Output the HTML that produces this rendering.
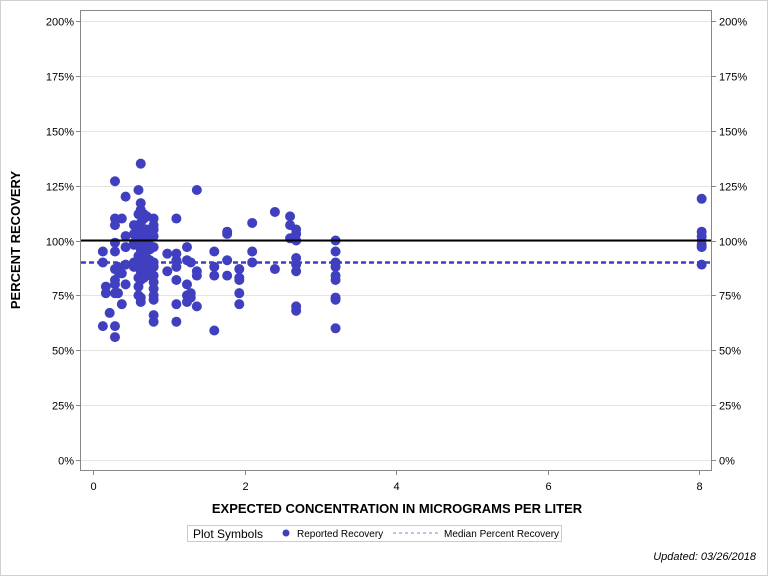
<!DOCTYPE html>
<html><head><meta charset="utf-8"><style>
body{margin:0;background:#fff;}
svg text{font-family:"Liberation Sans",Arial,sans-serif;}
</style></head><body>
<svg id="c" width="768" height="576" xmlns="http://www.w3.org/2000/svg">
<rect x="0.5" y="0.5" width="767" height="575" fill="#fff" stroke="#d0d0d0"/>
<g id="grid"></g>
<g id="marks"></g>
<rect x="80.5" y="10.5" width="631" height="460" fill="none" stroke="#888"/>
<g id="axes"></g>
<text x="20" y="240" transform="rotate(-90 20 240)" text-anchor="middle" font-size="13" font-weight="bold" fill="#000">PERCENT RECOVERY</text>
<text x="397" y="513" text-anchor="middle" font-size="13" font-weight="bold" fill="#000">EXPECTED CONCENTRATION IN MICROGRAMS PER LITER</text>
<g>
<rect x="187.5" y="525.5" width="374" height="16" fill="#fff" stroke="#ccc"/>
<text x="193" y="538" font-size="12" fill="#000">Plot Symbols</text>
<circle cx="286" cy="533" r="3.5" fill="#3f3fbf"/>
<text x="297" y="537" font-size="10" fill="#000">Reported Recovery</text>
<line x1="393" y1="533" x2="438" y2="533" stroke="#8080d8" stroke-dasharray="3,3"/>
<text x="444" y="537" font-size="10" fill="#000">Median Percent Recovery</text>
</g>
<text x="756" y="560" text-anchor="end" font-size="11" font-style="italic" fill="#000">Updated: 03/26/2018</text>
</svg>
<script>
const yTicks=[0,25,50,75,100,125,150,175,200];
const xTicks=[0,2,4,6,8];
const refLine=100;
const medianValue=90;
const concs=[0.13,0.17,0.22,0.29,0.33,0.38,0.43,0.54,0.6,0.63,0.67,0.71,0.75,0.8,0.98,1.1,1.24,1.29,1.37,1.6,1.77,1.93,2.1,2.4,2.6,2.68,3.2,8.03];
const recoveries=[
[95,90,61],[79,76],[67],[127,107,110,99,95,87,82,80,76,61,56],[88,86,76],[110,85,71],[120,102,97,89,80],
[107,103,99,98,90,88],[123,112,105,101,93,91,88,83,79,75],[135,117,114,108,100,96,92,86,82,74,72],
[112,110,104,98,95,90,85,83],[111,105,100,97,92,88,84],[104,101,96,91,87],
[110,107,105,102,97,90,88,84,81,78,75,73,66,63],[94,86],[110,94,91,88,82,71,63],[97,91,80,75,72],[90,76,74],
[123,86,84,70],[95,88,84,59],[104,103,91,84],[87,83,82,76,71],[108,95,90],[113,87],[111,107,101],
[105,103,100,92,89,86,70,68],[100,95,90,88,84,82,74,73,60],[119,104,102,100,98,97,89]];
const X=v=>93+v*75.8;
const Y=v=>460-v*2.195;
const NS="http://www.w3.org/2000/svg";
function mk(t,a,p){const e=document.createElementNS(NS,t);for(const k in a)e.setAttribute(k,a[k]);p.appendChild(e);return e;}
const grid=document.getElementById('grid'),axes=document.getElementById('axes'),marks=document.getElementById('marks');
yTicks.forEach(t=>{
 const y=Math.round(Y(t))+0.5;
 const g=mk('line',{x1:81,x2:711,y1:y,y2:y,stroke:'#e4e4e4'},grid);
 
 
 const l=mk('line',{x1:76,x2:80,y1:y,y2:y,stroke:'#888'},axes);
 
 
 const r=mk('line',{x1:712,x2:716,y1:y,y2:y,stroke:'#888'},axes);
 
 
 const a=mk('text',{x:74,y:y+4,'text-anchor':'end','font-size':11,fill:'#000'},axes);a.textContent=t+'%';
 
 
 const b=mk('text',{x:719,y:y+4,'font-size':11,fill:'#000'},axes);b.textContent=t+'%';
 
 
});
xTicks.forEach(t=>{
 const x=Math.round(X(t))+0.5;
 const l=mk('line',{x1:x,x2:x,y1:471,y2:475,stroke:'#888'},axes);
 
 
 const a=mk('text',{x:x,y:490,'text-anchor':'middle','font-size':11,fill:'#000'},axes);a.textContent=t;
 
 
});
concs.forEach((c,i)=>recoveries[i].forEach(v=>{
 const p=mk('circle',{cx:X(c),cy:Y(v),r:5,fill:'#3f3fbf'},marks);
 
 
}));
const rl=mk('line',{x1:81,x2:711,y1:Y(refLine),y2:Y(refLine),stroke:'#000','stroke-width':2},marks);


const ml=mk('line',{x1:81,x2:711,y1:Y(medianValue),y2:Y(medianValue),stroke:'#3f3fbf','stroke-width':2.5,'stroke-dasharray':'5,3'},marks);


</script>
</body></html>
